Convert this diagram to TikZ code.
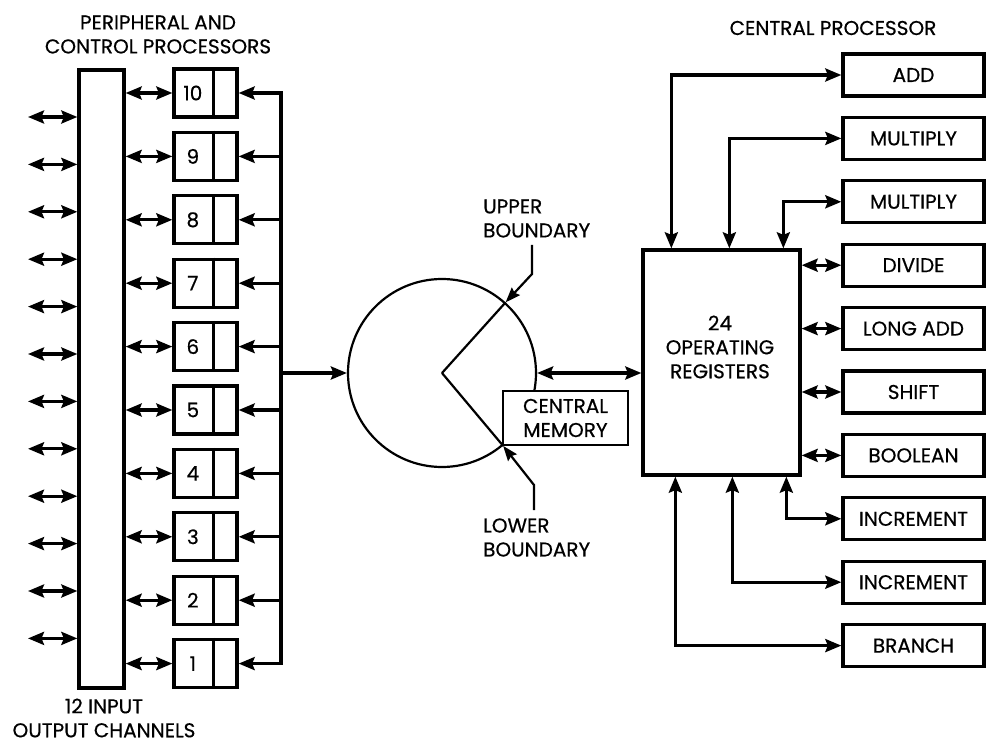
\documentclass[tikz,border=0pt]{standalone}
\usepackage{fontspec}
\setmainfont{Poppins}[FakeBold=0.5]
\usetikzlibrary{arrows.meta}
\newcommand\lbl{\fontsize{20}{24}\selectfont}
\begin{document}
\begin{tikzpicture}[x=1pt,y=-1pt,
  box/.style={draw,line width=3.3pt,inner sep=0pt,font=\lbl},
  con/.style={line width=3.2pt},
  tip/.tip={Stealth[length=16pt,width=13pt,inset=2.5pt]},
  dbl/.style={con,tip-tip},
  sgl/.style={con,-tip},
  thin/.style={line width=2.2pt},
  lab/.style={font=\lbl,align=center,inner sep=0pt}]
\useasboundingbox[fill=white] (0,0) rectangle (986,746);

% titles
\node[lab] (t1) at (158,34.5) {\fontsize{20}{25}\selectfont PERIPHERAL AND\\CONTROL PROCESSORS};
\node[lab] (t2) at (833,28) {CENTRAL PROCESSOR};
\node[lab] (t3) at (104,718) {\fontsize{20}{27}\selectfont 12 INPUT\\OUTPUT CHANNELS};

% left bar and channels
\node[box,minimum width=45pt,minimum height=618pt] (bar) at (101.5,379) {};
\foreach \k in {0,...,11} {
  \coordinate (L\k) at (28,{117+47.4*\k});
  \draw[dbl] (L\k) -- (L\k -| bar.west);
}

% bus
\coordinate (busT) at (281,93);
\coordinate (busB) at (281,663.6);
\draw[con,line cap=rect] (busT) -- (busB);

% peripheral processors
\foreach \k in {0,...,9} {
  \pgfmathtruncatemacro\n{10-\k}
  \node[box,minimum width=63pt,minimum height=48pt] (p\n) at (205.5,{93+63.4*\k}) {};
  \draw[con] ([xshift=41pt]p\n.north west) -- ([xshift=41pt]p\n.south west);
  \node[lab] (n\n) at ([xshift=20.5pt]p\n.west) {\n};
  \draw[dbl] (bar.east |- p\n.west) -- (p\n.west);
  \draw[sgl] (busT |- p\n.east) -- (p\n.east);
}

% central memory
\node[draw,circle,thin,minimum size=188pt,inner sep=0pt] (mem) at (442,373) {};
\draw[sgl] (busT |- mem.west) -- (mem.west);
\coordinate (ub1) at (532,245);
\coordinate (ub2) at (532,274);
\coordinate (lb1) at (534,510);
\coordinate (lb2) at (534,485);
\draw[thin] (mem.center) -- (mem.48);
\draw[thin] (mem.center) -- (mem.-50);
\draw[thin,-{Stealth[length=15pt,width=11pt,inset=2pt]}] (ub1) -- (ub2) -- (mem.48);
\draw[thin,-{Stealth[length=15pt,width=11pt,inset=2pt]}] (lb1) -- (lb2) -- (mem.-50);
\node[lab,anchor=west,align=left] (ubl) at (483,218.5) {\fontsize{20}{23}\selectfont UPPER\\BOUNDARY};
\node[lab,anchor=west,align=left] (lbl) at (483,537.5) {\fontsize{20}{22}\selectfont LOWER\\BOUNDARY};
\node[box,line width=2.6pt,fill=white,align=center,minimum width=125pt,minimum height=54pt] (cm) at (565.5,418) {\fontsize{20}{22}\selectfont CENTRAL\\MEMORY};

% registers
\node[box,minimum width=157pt,minimum height=225pt] (reg) at (721.5,362.5) {};
\node[lab] (regt) at (720,347) {\fontsize{20}{27.5}\selectfont 24\\OPERATING\\REGISTERS};
\draw[dbl] (mem.east) -- (reg.west |- mem.east);

% functional units
\foreach \k/\nm/\tx in {0/add/ADD,1/mula/MULTIPLY,2/mulb/MULTIPLY,3/div/DIVIDE,4/ladd/LONG ADD,5/shft/SHIFT,6/bool/BOOLEAN,7/inca/INCREMENT,8/incb/INCREMENT,9/br/BRANCH} {
  \node[box,minimum width=141pt,minimum height=42pt] (\nm) at (913.5,{75+63.4*\k}) {\tx};
}
\draw[dbl] ([xshift=30pt]reg.north west) |- (add.west);
\draw[dbl] ([xshift=88pt]reg.north west) |- (mula.west);
\draw[dbl] ([xshift=142pt]reg.north west) |- (mulb.west);
\foreach \nm in {div,ladd,shft,bool} {
  \draw[dbl] (reg.east |- \nm.west) -- (\nm.west);
}
\draw[dbl] ([xshift=145pt]reg.south west) |- (inca.west);
\draw[dbl] ([xshift=91pt]reg.south west) |- (incb.west);
\draw[dbl] ([xshift=34pt]reg.south west) |- (br.west);
\end{tikzpicture}
\end{document}
